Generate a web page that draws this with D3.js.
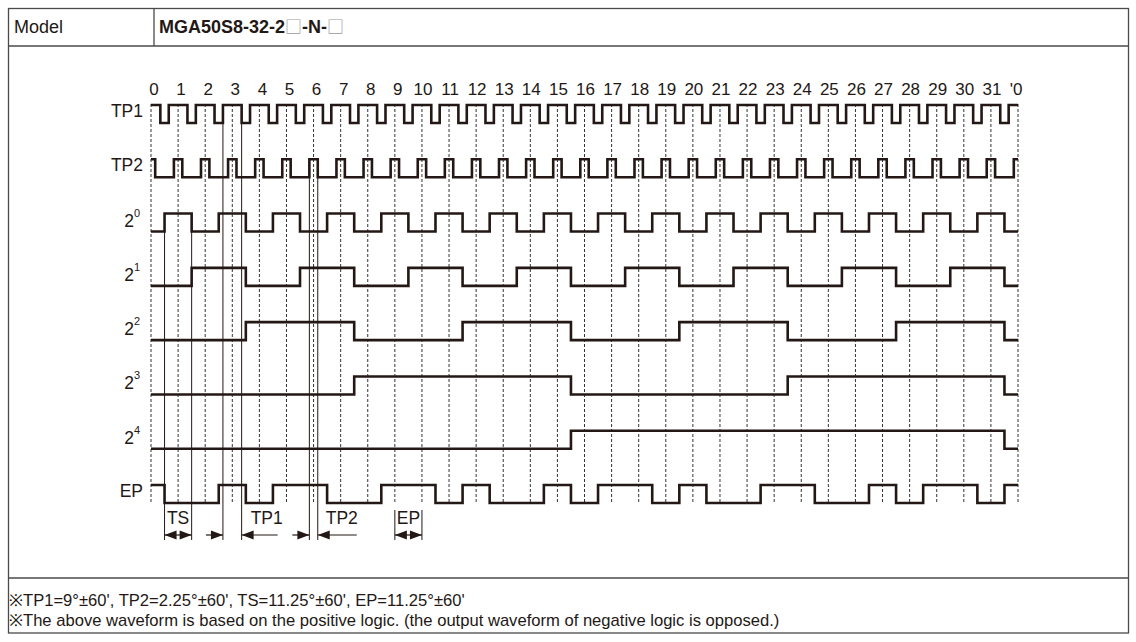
<!DOCTYPE html>
<html><head><meta charset="utf-8">
<script src="https://cdn.jsdelivr.net/npm/d3@7"></script>
<style>
body{margin:0;background:#fff}
text{font-family:Arial,"Liberation Sans",sans-serif;fill:#231815}
</style>
</head><body>
<svg id="chart" width="1136" height="642"></svg>
<script>
// ---- data ----
const steps = ["0","1","2","3","4","5","6","7","8","9","10","11","12","13","14","15","16","17","18","19","20","21","22","23","24","25","26","27","28","29","30","31","'0"];
const rowNames = ["TP1","TP2","2^0","2^1","2^2","2^3","2^4","EP"];
// output level at each position (codes 0..31 and '0)
const bit0 = [0,1,0,1,0,1,0,1,0,1,0,1,0,1,0,1,0,1,0,1,0,1,0,1,0,1,0,1,0,1,0,1,0];
const bit1 = [0,0,1,1,0,0,1,1,0,0,1,1,0,0,1,1,0,0,1,1,0,0,1,1,0,0,1,1,0,0,1,1,0];
const bit2 = [0,0,0,0,1,1,1,1,0,0,0,0,1,1,1,1,0,0,0,0,1,1,1,1,0,0,0,0,1,1,1,1,0];
const bit3 = [0,0,0,0,0,0,0,0,1,1,1,1,1,1,1,1,0,0,0,0,0,0,0,0,1,1,1,1,1,1,1,1,0];
const bit4 = [0,0,0,0,0,0,0,0,0,0,0,0,0,0,0,0,1,1,1,1,1,1,1,1,1,1,1,1,1,1,1,1,0];
const epBits = [1,0,0,1,0,1,1,0,0,1,1,0,1,0,0,1,0,1,1,0,1,0,0,1,1,0,0,1,0,1,1,0,1];
// strobe pulses: window inside each step (in step units)
const tp1LowWindow = [0.345, 0.655];   // TP1 goes low inside this window
const tp2HighWindow = [-0.155, 0.155]; // TP2 goes high inside this window
// annotations (positions in step units)
const annTS = {label:"TS", from:0.5, to:1.5};
const annTP1 = {label:"TP1", from:2.655, to:3.345};
const annTP2 = {label:"TP2", from:5.845, to:6.155};
const annEP = {label:"EP", from:9, to:10};
const modelLabel = "Model";
const modelParts = ["MGA50S8-32-2","□","-N-","□"];
const notes = [
  "※TP1=9°±60', TP2=2.25°±60', TS=11.25°±60', EP=11.25°±60'",
  "※The above waveform is based on the positive logic. (the output waveform of negative logic is opposed.)"
];

// ---- drawing ----
const svg = d3.select("#chart");
const ink = "#231815";
const x = d3.scaleLinear().domain([0, 32]).range([151, 1018]);
const y = d3.scalePoint().domain(rowNames).range([105, 485]);
const amp = 18;
const lvl = (row, v) => y(row) + (1 - v) * amp;

// table frame
const frame = svg.append("g").attr("stroke", "#4a4a4a").attr("stroke-width", 1.3).attr("fill", "none");
frame.append("rect").attr("x", 8.5).attr("y", 8.5).attr("width", 1120).attr("height", 624.5);
frame.append("line").attr("x1", 8.5).attr("x2", 1128.5).attr("y1", 46).attr("y2", 46);
frame.append("line").attr("x1", 154).attr("x2", 154).attr("y1", 8.5).attr("y2", 46);
frame.append("line").attr("x1", 8.5).attr("x2", 1128.5).attr("y1", 578).attr("y2", 578);

svg.append("text").attr("x", 14).attr("y", 33).attr("font-size", 18).text(modelLabel);
const mt = svg.append("text").attr("x", 159).attr("y", 33).attr("font-size", 18).attr("font-weight", "bold");
modelParts.forEach(p => {
  const t = mt.append("tspan").text(p);
  if (p === "□") t.attr("font-weight", "normal").attr("font-size", 17)
    .style("font-family", "'Noto Sans CJK JP','DejaVu Sans',sans-serif").style("fill", "#9a9a9a");
});

// dashed step lines
svg.append("g").selectAll("line").data(steps).join("line")
  .attr("x1", (d, i) => x(i)).attr("x2", (d, i) => x(i))
  .attr("y1", 104).attr("y2", 504)
  .attr("stroke", "#333").attr("stroke-width", 1).attr("stroke-dasharray", "3,2");

// step numbers
svg.append("g").selectAll("text").data(steps).join("text")
  .attr("x", (d, i) => x(i) + (d.length === 1 ? 3 : (d === "'0" ? -2 : 1)))
  .attr("y", 95).attr("text-anchor", "middle").attr("font-size", 17).text(d => d);

// row labels
rowNames.forEach(r => {
  if (r.startsWith("2^")) {
    const t = svg.append("text").attr("x", 140).attr("y", y(r) + 13).attr("text-anchor", "end").attr("font-size", 17.5);
    t.append("tspan").text("2");
    t.append("tspan").attr("dy", -10).attr("font-size", 11).text(r.slice(2));
  } else {
    svg.append("text").attr("x", 143).attr("y", y(r) + 12).attr("text-anchor", "end").attr("font-size", 17.5).text(r);
  }
});

// waveform builders
const line = d3.line().x(d => x(d[0])).y(d => d[1]);
function bitPoints(row, vals) {
  const pts = [[0, lvl(row, vals[0])]];
  for (let i = 1; i < vals.length; i++) {
    if (vals[i] !== vals[i - 1]) {
      pts.push([i - 0.5, lvl(row, vals[i - 1])], [i - 0.5, lvl(row, vals[i])]);
    }
  }
  pts.push([32, lvl(row, vals[vals.length - 1])]);
  return pts;
}
function tp1Points(row) {
  const pts = [[0, lvl(row, 1)]];
  for (let k = 0; k < 32; k++) {
    const a = k + tp1LowWindow[0], b = k + tp1LowWindow[1];
    pts.push([a, lvl(row, 1)], [a, lvl(row, 0)], [b, lvl(row, 0)], [b, lvl(row, 1)]);
  }
  pts.push([32, lvl(row, 1)]);
  return pts;
}
function tp2Points(row) {
  const pts = [[0, lvl(row, 1)]];
  for (let k = 0; k <= 32; k++) {
    const a = k + tp2HighWindow[0], b = k + tp2HighWindow[1];
    if (a > 0) pts.push([a, lvl(row, 0)], [a, lvl(row, 1)]);
    if (b < 32) pts.push([b, lvl(row, 1)], [b, lvl(row, 0)]);
  }
  pts.push([32, lvl(row, 1)]);
  return pts;
}
const waves = [
  tp1Points("TP1"), tp2Points("TP2"),
  bitPoints("2^0", bit0), bitPoints("2^1", bit1), bitPoints("2^2", bit2),
  bitPoints("2^3", bit3), bitPoints("2^4", bit4), bitPoints("EP", epBits)
];
svg.append("g").selectAll("path").data(waves).join("path")
  .attr("d", line).attr("fill", "none").attr("stroke", ink)
  .attr("stroke-width", 2.6).attr("stroke-linejoin", "miter").attr("stroke-linecap", "butt");

// annotation lines
const ann = svg.append("g");
const annBottom = 540, arrowY = 535;
function vline(u, top) {
  ann.append("line").attr("x1", x(u)).attr("x2", x(u)).attr("y1", top).attr("y2", annBottom)
    .attr("stroke", ink).attr("stroke-width", 1);
}
function head(xTip, dir) { // dir: +1 points right, -1 points left
  const L = 12, H = 4.5;
  ann.append("path")
    .attr("d", `M${xTip},${arrowY} L${xTip - dir * L},${arrowY - H} L${xTip - dir * L},${arrowY + H} Z`)
    .attr("fill", ink);
}
function hline(x1, x2) {
  ann.append("line").attr("x1", x1).attr("x2", x2).attr("y1", arrowY).attr("y2", arrowY)
    .attr("stroke", ink).attr("stroke-width", 1.2);
}
function annText(txt, xx, anchor) {
  ann.append("text").attr("x", xx).attr("y", 524).attr("text-anchor", anchor).attr("font-size", 17.5).text(txt);
}
// TS : inner double arrow
vline(annTS.from, y("2^0")); vline(annTS.to, y("2^0"));
hline(x(annTS.from), x(annTS.to)); head(x(annTS.from), -1); head(x(annTS.to), 1);
annText(annTS.label, (x(annTS.from) + x(annTS.to)) / 2, "middle");
// TP1 : outer arrows
vline(annTP1.from, y("TP1")); vline(annTP1.to, y("TP1"));
hline(x(annTP1.from) - 17, x(annTP1.from)); head(x(annTP1.from), 1);
hline(x(annTP1.to), x(annTP1.to) + 36); head(x(annTP1.to), -1);
annText(annTP1.label, x(annTP1.to) + 9, "start");
// TP2 : outer arrows
vline(annTP2.from, y("TP2")); vline(annTP2.to, y("TP2"));
hline(x(annTP2.from) - 17, x(annTP2.from)); head(x(annTP2.from), 1);
hline(x(annTP2.to), x(annTP2.to) + 39); head(x(annTP2.to), -1);
annText(annTP2.label, x(annTP2.to) + 8, "start");
// EP : inner double arrow
vline(annEP.from, 510); vline(annEP.to, 510);
hline(x(annEP.from), x(annEP.to)); head(x(annEP.from), -1); head(x(annEP.to), 1);
annText(annEP.label, (x(annEP.from) + x(annEP.to)) / 2, "middle");

// notes
svg.append("g").selectAll("text").data(notes).join("text")
  .attr("x", 9).attr("y", (d, i) => 606 + i * 20).attr("font-size", 16.6).text(d => d);
</script>
</body></html>
